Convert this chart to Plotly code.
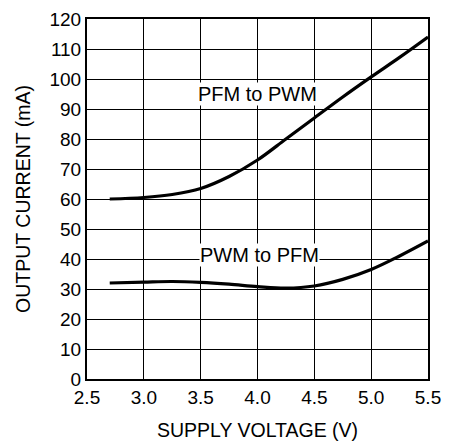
import plotly.graph_objects as go

# Data
pfm_to_pwm_x = [2.7, 3.0, 3.25, 3.5, 3.75, 4.0, 4.25, 4.5, 4.75, 5.0, 5.25, 5.5]
pfm_to_pwm_y = [60.0, 60.5, 61.5, 63.5, 67.5, 73.0, 80.0, 87.0, 94.0, 100.7, 107.2, 114.0]

pwm_to_pfm_x = [2.7, 3.0, 3.25, 3.5, 3.75, 4.0, 4.25, 4.5, 4.75, 5.0, 5.25, 5.5]
pwm_to_pfm_y = [32.0, 32.3, 32.5, 32.2, 31.6, 30.8, 30.3, 31.0, 33.2, 36.5, 41.0, 46.0]

labels = ["PFM to PWM", "PWM to PFM"]
label_x = [4.0, 4.02]
label_y = [95.0, 41.3]

x_ticks = [2.5, 3.0, 3.5, 4.0, 4.5, 5.0, 5.5]
x_tick_text = ["2.5", "3.0", "3.5", "4.0", "4.5", "5.0", "5.5"]
y_ticks = list(range(0, 121, 10))

FONT = "Liberation Sans, Arial, sans-serif"

fig = go.Figure()
for xs, ys in [(pfm_to_pwm_x, pfm_to_pwm_y), (pwm_to_pfm_x, pwm_to_pfm_y)]:
    fig.add_trace(go.Scatter(x=xs, y=ys, mode="lines",
                             line=dict(color="black", width=3.2, shape="spline", smoothing=1.0),
                             showlegend=False, hoverinfo="skip"))

for t, lx, ly in zip(labels, label_x, label_y):
    fig.add_annotation(x=lx, y=ly, text=t, showarrow=False,
                       font=dict(family=FONT, size=20, color="black"),
                       bgcolor="white", borderpad=0)

fig.update_layout(
    width=446, height=433,
    margin=dict(l=79, r=26, t=11, b=62),
    paper_bgcolor="white", plot_bgcolor="white",
    font=dict(family=FONT, size=19, color="black"),
)
fig.update_xaxes(range=[2.5, 5.5], tickvals=x_ticks, ticktext=x_tick_text,
                 showgrid=True, gridcolor="black", gridwidth=1.3,
                 showline=True, linecolor="black", linewidth=2, mirror=True,
                 ticks="", zeroline=False, tickfont=dict(size=19), automargin=False,
                 ticklabeloverflow="allow",
                 title=dict(text="SUPPLY VOLTAGE (V)", font=dict(size=19.5), standoff=19))
fig.update_yaxes(range=[0, 120], tickvals=y_ticks,
                 showgrid=True, gridcolor="black", gridwidth=1.3,
                 showline=True, linecolor="black", linewidth=2, mirror=True,
                 ticks="", zeroline=False, tickfont=dict(size=19), automargin=False,
                 ticklabeloverflow="allow",
                 title=dict(text="OUTPUT CURRENT (mA)", font=dict(size=19.5), standoff=14))

fig.write_html("out.html")
